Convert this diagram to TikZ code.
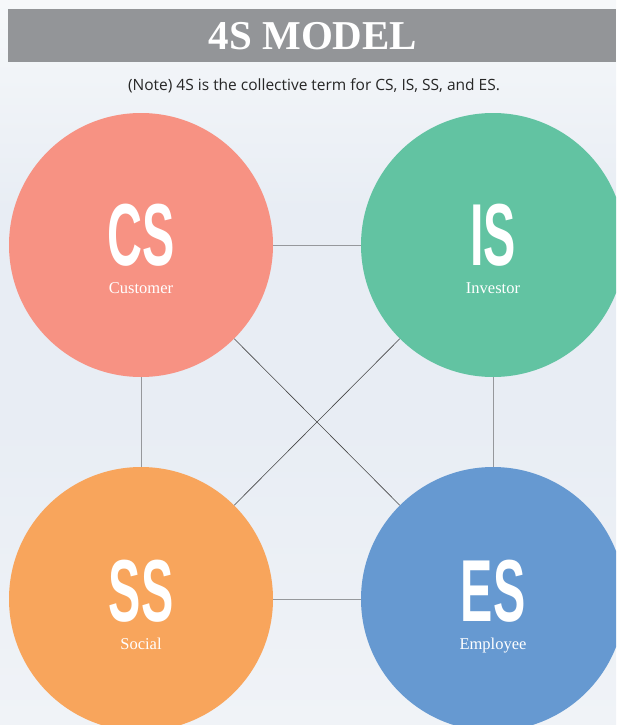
\documentclass[tikz,border=0pt]{standalone}
\usepackage{fontspec}
\setmainfont{Liberation Serif}
\newfontfamily\notefont{Open Sans}
\newfontfamily\bigfont{Liberation Sans}
\definecolor{bgtop}{RGB}{246,248,250}
\definecolor{bgmid}{RGB}{232,237,244}
\definecolor{bgbot}{RGB}{240,243,247}
\definecolor{barc}{RGB}{147,149,152}
\definecolor{csc}{RGB}{247,146,131}
\definecolor{isc}{RGB}{98,195,162}
\definecolor{ssc}{RGB}{248,165,92}
\definecolor{esc}{RGB}{102,153,209}
\definecolor{linec}{RGB}{70,70,70}
\definecolor{linel}{RGB}{150,152,156}
\tikzset{
  bubble/.style={circle,minimum size=264pt,inner sep=0pt,fill=#1},
  bigtxt/.style={anchor=base,text=white,inner sep=0pt,font=\bigfont\bfseries\fontsize{88}{88}\selectfont,xscale=0.55},
  subtxt/.style={anchor=base,text=white,inner sep=0pt,font=\fontsize{16.5}{17}\selectfont},
  conn/.style={draw=linec,line width=0.6pt},
  connl/.style={draw=linel,line width=0.8pt}
}
\begin{document}
\begin{tikzpicture}[x=1pt,y=-1pt]
\useasboundingbox (0,0) rectangle (616,725);
\clip (0,0) rectangle (616,725);
\shade[top color=bgtop,bottom color=bgmid,middle color=bgmid] (0,0) rectangle (616,420);
\shade[top color=bgmid,bottom color=bgbot] (0,420) rectangle (616,725);
\fill[barc] (8,9) rectangle (616,62);
\node[text=white,font=\bfseries\fontsize{41}{41}\selectfont,anchor=base,inner sep=0pt] (title) at (313,50) {4S MODEL};
\node[font=\notefont\fontsize{15.5}{16}\selectfont,text=black!85,anchor=base,inner sep=0pt] (note) at (314,90) {(Note) 4S is the collective term for CS, IS, SS, and ES.};
\node[bubble=csc] (cs) at (141,245) {};
\node[bubble=isc] (is) at (493,245) {};
\node[bubble=ssc] (ss) at (141,599) {};
\node[bubble=esc] (es) at (493,599) {};
\draw[connl] (cs) -- (is);
\draw[connl] (ss) -- (es);
\draw[connl] (cs) -- (ss);
\draw[connl] (is) -- (es);
\draw[conn] (cs) -- (es);
\draw[conn] (is) -- (ss);
\node[bigtxt] (csL) at (141,265) {CS};
\node[bigtxt] (isL) at (493,265) {IS};
\node[bigtxt] (ssL) at (141,621) {SS};
\node[bigtxt] (esL) at (493,621) {ES};
\node[subtxt] (csS) at (141,293) {Customer};
\node[subtxt] (isS) at (493,293) {Investor};
\node[subtxt] (ssS) at (141,649) {Social};
\node[subtxt] (esS) at (493,649) {Employee};
\end{tikzpicture}
\end{document}
